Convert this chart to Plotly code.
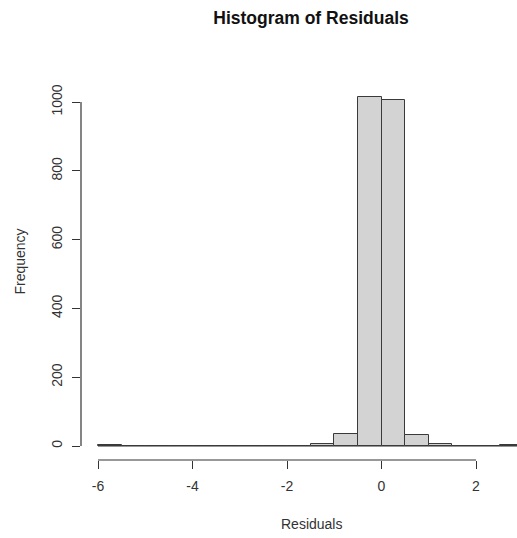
import plotly.graph_objects as go

# Histogram data (bin edges of width 0.5 from -6 to 3)
bin_starts = [-6.0, -5.5, -5.0, -4.5, -4.0, -3.5, -3.0, -2.5, -2.0,
              -1.5, -1.0, -0.5, 0.0, 0.5, 1.0, 1.5, 2.0, 2.5]
counts = [2, 0, 0, 0, 0, 0, 0, 0, 0,
          7, 36, 1015, 1005, 31, 6, 1, 0, 2]
bin_width = 0.5

x_tickvals = [-6, -4, -2, 0, 2]
x_ticktext = ["-6", "-4", "-2", "0", "2"]
y_tickvals = [0, 200, 400, 600, 800, 1000]
y_ticktext = ["0", "200", "400", "600", "800", "1000"]

title_text = "Histogram of Residuals"
x_title = "Residuals"
y_title = "Frequency"

W, H = 517, 538
px_per_count = 0.344
px_per_unit = 47.25
ymax = max(counts)
y_range = [-0.04 * ymax, 1.04 * ymax]

left, right_px, bottom_px = 81, 517, 460.5
plot_h = (y_range[1] - y_range[0]) * px_per_count
top = bottom_px - plot_h
plot_w = right_px - left

centers = [s + bin_width / 2 for s in bin_starts]
x_lo = bin_starts[0]
x_hi = bin_starts[-1] + bin_width
x_ext = 0.04 * (x_hi - x_lo)
x_range = [x_lo - x_ext, x_lo - x_ext + plot_w / px_per_unit]

fig = go.Figure()
fig.add_trace(go.Bar(
    x=centers, y=counts, width=[bin_width] * len(centers),
    marker=dict(color="#D3D3D3", line=dict(color="#3a3a3a", width=1)),
    hoverinfo="x+y",
))

axis_color = "#333333"
fnt = "Liberation Sans, Arial, sans-serif"
fig.update_layout(
    width=W, height=H,
    margin=dict(l=left, r=W - right_px, t=top, b=H - bottom_px),
    paper_bgcolor="white", plot_bgcolor="white",
    showlegend=False,
    bargap=0,
    font=dict(family=fnt, color=axis_color, size=14),
    title=dict(text="<b>" + title_text + "</b>", x=311 / W, xref="container",
               xanchor="center", y=1 - 18 / H, yref="container", yanchor="middle",
               font=dict(size=17.5, color="#111111", family=fnt)),
    xaxis=dict(range=x_range, tickvals=x_tickvals, ticktext=x_ticktext,
               showgrid=False, zeroline=False, showline=False,
               ticks="outside", ticklen=8, tickwidth=1, tickcolor=axis_color,
               ticklabelstandoff=5,
               tickfont=dict(size=14, color=axis_color)),
    yaxis=dict(range=y_range, tickvals=y_tickvals, ticktext=y_ticktext,
               showgrid=False, zeroline=False, showline=False,
               ticks="outside", ticklen=8, tickwidth=1, tickcolor=axis_color,
               ticklabelstandoff=4,
               tickangle=-90, tickfont=dict(size=14, color=axis_color)),
)

# R-style axis lines spanning only the tick range
fig.add_shape(type="line", xref="x", yref="paper", x0=x_tickvals[0], x1=x_tickvals[-1],
              y0=0, y1=0, line=dict(color=axis_color, width=1.2))
fig.add_shape(type="line", xref="paper", yref="y", x0=0, x1=0,
              y0=y_tickvals[0], y1=y_tickvals[-1], line=dict(color=axis_color, width=1.2))
# baseline drawn by R for empty bins
fig.add_shape(type="line", xref="x", yref="y", x0=x_lo, x1=x_hi, y0=0, y1=0,
              line=dict(color="#3a3a3a", width=1))

fig.add_annotation(text=x_title, xref="paper", yref="paper",
                   x=(311 - left) / plot_w, y=(bottom_px - 525) / plot_h,
                   showarrow=False, xanchor="center", yanchor="middle",
                   font=dict(size=14, color=axis_color))
fig.add_annotation(text=y_title, xref="paper", yref="paper",
                   x=(20 - left) / plot_w, y=(bottom_px - 262) / plot_h,
                   showarrow=False, xanchor="center", yanchor="middle", textangle=-90,
                   font=dict(size=14, color=axis_color))

fig.write_html("out.html")
